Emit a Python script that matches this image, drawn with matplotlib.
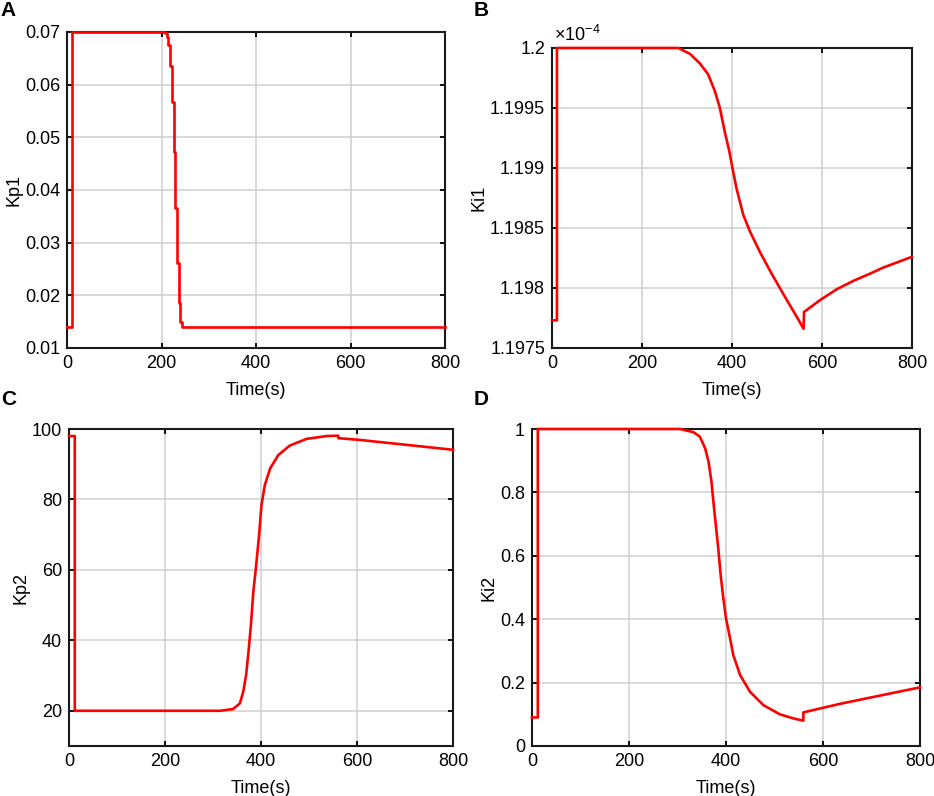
import matplotlib
matplotlib.use('Agg')
import matplotlib.pyplot as plt
from matplotlib.ticker import FuncFormatter

plt.rcParams['font.family'] = ['Liberation Sans', 'DejaVu Sans']
plt.rcParams['font.size'] = 12.5
plt.rcParams['mathtext.fontset'] = 'custom'
plt.rcParams['mathtext.rm'] = 'Liberation Sans'

# A - Kp1 (degraus)
t_a = [0, 11, 207, 211, 214.5, 219, 223, 226, 229, 232, 236, 240, 243, 800]
kp1 = [0.014, 0.07, 0.0698, 0.069, 0.0675, 0.0636, 0.0568, 0.0473, 0.0366, 0.0261, 0.0185, 0.015, 0.014, 0.014]

# B - Ki1 (em unidades de 1e-4)
t_b = [0, 11, 11, 281, 307, 329, 347, 362, 373, 384, 394, 401, 410, 425, 440, 462, 488, 514, 547, 559, 560,
       596, 633, 670, 707, 736, 800]
ki1 = [1.19773, 1.19773, 1.2, 1.2, 1.19995, 1.19987, 1.19978, 1.19964, 1.1995, 1.1993, 1.19914, 1.199,
       1.19883, 1.19861, 1.19847, 1.1983, 1.19812, 1.19795, 1.19774, 1.19766, 1.19780,
       1.19790, 1.19799, 1.19806, 1.19812, 1.19817, 1.19826]

# C - Kp2
t_c = [0, 12, 12, 315, 342, 356, 363, 369, 374, 379, 384, 390, 396, 401, 408, 419, 436, 460, 495, 537,
       561, 561, 606, 800]
kp2 = [98, 98, 20, 20, 20.5, 22.1, 25.4, 30.2, 36.8, 44.4, 53.8, 61.4, 69.9, 78.4, 84.1, 88.8, 92.6,
       95.3, 97.2, 98.0, 98.1, 97.4, 96.9, 94.1]

# D - Ki2
t_d = [0, 12, 12, 305, 333, 346, 357, 364, 370, 374, 379, 384, 389, 394.5, 400, 407, 415, 429, 449.5,
       477, 511, 539, 559.5, 559.5, 635, 800]
ki2 = [0.09, 0.09, 1, 1, 0.99, 0.976, 0.939, 0.897, 0.834, 0.771, 0.697, 0.624, 0.539, 0.466, 0.403,
       0.35, 0.287, 0.224, 0.171, 0.129, 0.1, 0.087, 0.08, 0.106, 0.133, 0.185]

W, H = 934, 796

def caixa(l, r, t, b):
    return [l / W, 1 - b / H, (r - l) / W, (b - t) / H]

fig = plt.figure(figsize=(W / 100, H / 100), dpi=100)

def formata(ax, ylim, yticks, ylabel):
    ax.set_xlim(0, 800)
    ax.set_xticks([0, 200, 400, 600, 800])
    ax.set_ylim(*ylim)
    ax.set_yticks(yticks)
    ax.yaxis.set_major_formatter(FuncFormatter(lambda v, p: '%g' % round(v, 6)))
    ax.grid(True, color='#cfcfcf', linewidth=1.1)
    ax.set_axisbelow(True)
    ax.tick_params(direction='in', top=True, right=True, length=3.5, width=1.3, labelsize=13, pad=5)
    for s in ax.spines.values():
        s.set_linewidth(1.5)
        s.set_color('#1a1a1a')
        s.set_zorder(3)
    ax.set_xlabel('Time(s)', labelpad=7, fontsize=13)
    ax.set_ylabel(ylabel, labelpad=2, fontsize=13)

axA = fig.add_axes(caixa(67, 445, 32, 348))
axA.plot(t_a, kp1, color='red', linewidth=1.9, drawstyle='steps-post', clip_on=False, zorder=4)
formata(axA, (0.01, 0.07), [0.01, 0.02, 0.03, 0.04, 0.05, 0.06, 0.07], 'Kp1')

axB = fig.add_axes(caixa(552, 912, 48, 348))
axB.plot(t_b, ki1, color='red', linewidth=1.9, clip_on=False, zorder=4)
formata(axB, (1.1975, 1.2), [1.1975, 1.198, 1.1985, 1.199, 1.1995, 1.2], 'Ki1')
axB.text(0.005, 1.01, r'$\times$10$^{-4}$', transform=axB.transAxes, ha='left', va='bottom', fontsize=13)

axC = fig.add_axes(caixa(69, 453, 429, 746))
axC.plot(t_c, kp2, color='red', linewidth=1.9, clip_on=False, zorder=4)
formata(axC, (10, 100), [20, 40, 60, 80, 100], 'Kp2')

axD = fig.add_axes(caixa(532, 920, 429, 746))
axD.plot(t_d, ki2, color='red', linewidth=1.9, clip_on=False, zorder=4)
formata(axD, (0, 1), [0, 0.2, 0.4, 0.6, 0.8, 1], 'Ki2')

# letras dos paineis
for letra, x, y in [('A', 0, 1), ('B', 474, 1), ('C', 1, 390), ('D', 474, 390)]:
    fig.text(x / W, 1 - y / H, letra, fontsize=15, fontweight='bold', ha='left', va='top')

fig.savefig('out.png', dpi=100)
